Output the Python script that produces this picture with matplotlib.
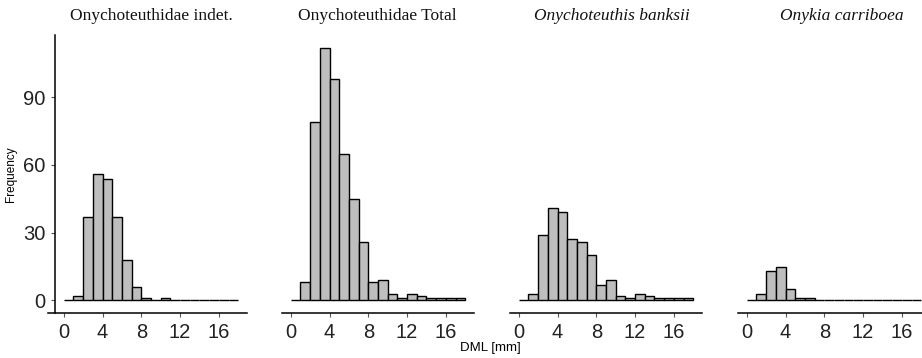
import numpy as np
import matplotlib
matplotlib.use('Agg')
import matplotlib.pyplot as plt

# DML bins (1 mm wide, 0-18 mm) and counts per bin
bin_edges = np.arange(0, 19)
indet = [0, 2, 37, 56, 54, 37, 18, 6, 1, 0, 1, 0, 0, 0, 0, 0, 0, 0]
banksii = [0, 3, 29, 41, 39, 27, 26, 20, 7, 9, 2, 1, 3, 2, 1, 1, 1, 1]
carriboea = [0, 3, 13, 15, 5, 1, 1, 0, 0, 0, 0, 0, 0, 0, 0, 0, 0, 0]
total = list(np.array(indet) + np.array(banksii) + np.array(carriboea))

titles = ['Onychoteuthidae indet.', 'Onychoteuthidae Total',
          'Onychoteuthis banksii', 'Onykia carriboea']
italic = [False, False, True, True]
series = [indet, total, banksii, carriboea]
title_x = [151, 377, 612, 842]   # pixel centres of the titles
y_ticks = [0, 30, 60, 90]
x_ticks = [0, 4, 8, 12, 16]

W, H = 922, 358
fig = plt.figure(figsize=(W / 100, H / 100), dpi=100)

lefts = [55, 282, 510, 738]
ax_w, ax_bottom, ax_top = 192, 313, 35

for i, (counts, left) in enumerate(zip(series, lefts)):
    ax = fig.add_axes([left / W, 1 - ax_bottom / H, ax_w / W, (ax_bottom - ax_top) / H])
    ax.bar(bin_edges[:-1], counts, width=1, align='edge', color='#bebebe',
           edgecolor='black', linewidth=1.0)
    ax.set_xlim(-0.9, 18.9)
    ax.set_ylim(-5.6, 117.6)
    for s in ['top', 'right']:
        ax.spines[s].set_visible(False)
    ax.spines['bottom'].set_linewidth(1.1)
    ax.spines['left'].set_linewidth(1.1)
    ax.set_xticks(x_ticks)
    ax.tick_params(axis='x', length=3, width=0.8, color='#555555', pad=4,
                   labelsize=14.5, labelcolor='#222222')
    if i == 0:
        ax.spines['bottom'].set_bounds(-1.6, 18.9)
        ax.set_yticks(y_ticks)
        ax.tick_params(axis='y', length=3, width=0.8, color='#555555', pad=4,
                       labelsize=14.5, labelcolor='#222222')
        ax.set_ylabel('Frequency', fontsize=8.5, family='Liberation Sans', labelpad=4)
    else:
        ax.spines['left'].set_visible(False)
        ax.set_yticks([])
    for lab in ax.get_xticklabels() + ax.get_yticklabels():
        lab.set_family('Liberation Sans')
    fig.text(title_x[i] / W, 1 - 16 / H, titles[i], ha='center', va='center',
             fontsize=12.5, family='Liberation Serif',
             style='italic' if italic[i] else 'normal', color='#111111')

fig.text(490 / W, 1 - 348 / H, 'DML [mm]', ha='center', va='center',
         fontsize=9.5, family='Liberation Sans')

fig.savefig('out.png', dpi=100)
